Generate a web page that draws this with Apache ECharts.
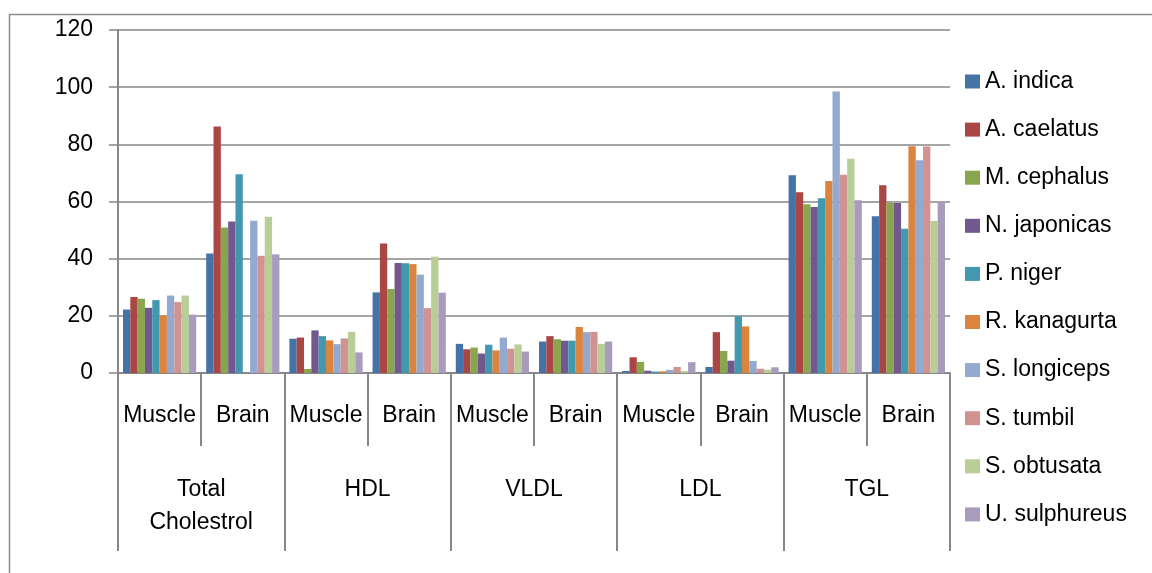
<!DOCTYPE html>
<html>
<head>
<meta charset="utf-8">
<script src="https://cdn.jsdelivr.net/npm/echarts@6/dist/echarts.min.js"></script>
<style>
  html, body { margin: 0; padding: 0; background: #fff; }
  #chart { width: 1152px; height: 573px; }
</style>
</head>
<body>
<div id="chart"></div>
<script>
const tissues = ['Muscle', 'Brain', 'Muscle', 'Brain', 'Muscle', 'Brain', 'Muscle', 'Brain', 'Muscle', 'Brain'];
const groups = ['Total\nCholestrol', 'HDL', 'VLDL', 'LDL', 'TGL'];
const yTicks = [0, 20, 40, 60, 80, 100, 120];
const speciesNames = ['A. indica', 'A. caelatus', 'M. cephalus', 'N. japonicas', 'P. niger',
  'R. kanagurta', 'S. longiceps', 'S. tumbil', 'S. obtusata', 'U. sulphureus'];

const aIndica      = [22.2, 41.8, 12.0, 28.2, 10.2, 11.0, 0.7, 2.1, 69.2, 54.8];
const aCaelatus    = [26.6, 86.2, 12.4, 45.3, 8.3, 12.9, 5.5, 14.3, 63.2, 65.7];
const mCephalus    = [26.0, 50.9, 1.4, 29.4, 8.9, 11.8, 3.9, 7.7, 59.0, 59.6];
const nJaponicas   = [22.8, 53.0, 14.9, 38.5, 6.8, 11.3, 0.8, 4.3, 58.1, 59.5];
const pNiger       = [25.5, 69.5, 12.9, 38.4, 9.9, 11.3, 0.5, 19.9, 61.1, 50.5];
const rKanagurta   = [20.1, null, 11.4, 38.1, 7.9, 16.1, 0.6, 16.3, 67.2, 79.3];
const sLongiceps   = [27.1, 53.3, 10.1, 34.4, 12.4, 14.3, 1.1, 4.2, 98.5, 74.4];
const sTumbil      = [24.8, 41.0, 12.1, 22.7, 8.5, 14.4, 2.1, 1.5, 69.4, 79.2];
const sObtusata    = [27.1, 54.7, 14.4, 40.7, 10.0, 10.2, 0.7, 1.2, 75.0, 53.2];
const uSulphureus  = [20.4, 41.5, 7.2, 28.1, 7.5, 11.0, 3.8, 2.0, 60.4, 59.7];

const seriesValues = [aIndica, aCaelatus, mCephalus, nJaponicas, pNiger,
  rKanagurta, sLongiceps, sTumbil, sObtusata, uSulphureus];
const colors = ['#4572A7', '#AA4643', '#89A54E', '#71588F', '#4198AF',
  '#DB843D', '#93A9CF', '#D19392', '#B9CD96', '#A99BBD'];

const FONT = 'Liberation Sans';
const GRAY = '#878787';

const chart = echarts.init(document.getElementById('chart'), null, { renderer: 'canvas' });
chart.setOption({
  animation: false,
  color: colors,
  textStyle: { fontFamily: FONT },
  graphic: [{
    type: 'polyline',
    shape: { points: [[9.5, 573], [9.5, 14.5], [1152, 14.5]] },
    style: { stroke: '#8a8a8a', lineWidth: 1.5, fill: null },
    silent: true
  }],
  grid: { left: 118, right: 202, top: 30, bottom: 200 },
  legend: {
    orient: 'vertical',
    left: 965,
    top: 70,
    padding: 0,
    itemWidth: 15,
    itemHeight: 14,
    itemGap: 25.1,
    icon: 'rect',
    textStyle: { fontFamily: FONT, fontSize: 23, color: '#000', lineHeight: 23 },
    data: speciesNames
  },
  xAxis: [{
    type: 'category',
    data: tissues,
    position: 'bottom',
    axisLine: { show: true, lineStyle: { color: GRAY, width: 2 } },
    axisTick: { show: true, interval: 0, length: 73, lineStyle: { color: GRAY, width: 2 } },
    axisLabel: { interval: 0, margin: 31, fontFamily: FONT, fontSize: 23, color: '#000' },
    splitLine: { show: false }
  }, {
    type: 'category',
    data: groups,
    position: 'bottom',
    axisLine: { show: false },
    axisTick: { show: true, interval: 0, length: 178, lineStyle: { color: GRAY, width: 2 } },
    axisLabel: { interval: 0, margin: 100, fontFamily: FONT, fontSize: 23, lineHeight: 33, color: '#000', verticalAlign: 'top' },
    splitLine: { show: false }
  }],
  yAxis: {
    type: 'value',
    min: yTicks[0],
    max: yTicks[yTicks.length - 1],
    interval: 20,
    axisLine: { show: true, lineStyle: { color: GRAY, width: 2 } },
    axisTick: { show: true, length: 9, lineStyle: { color: GRAY, width: 1.5 } },
    axisLabel: { margin: 25, fontFamily: FONT, fontSize: 23, color: '#000' },
    splitLine: { show: true, lineStyle: { color: GRAY, width: 1.5 } }
  },
  series: speciesNames.map((name, i) => ({
    name: name,
    type: 'bar',
    xAxisIndex: 0,
    data: seriesValues[i],
    barGap: '0%',
    barCategoryGap: '12%',
    itemStyle: { color: colors[i] }
  }))
});
</script>
</body>
</html>
